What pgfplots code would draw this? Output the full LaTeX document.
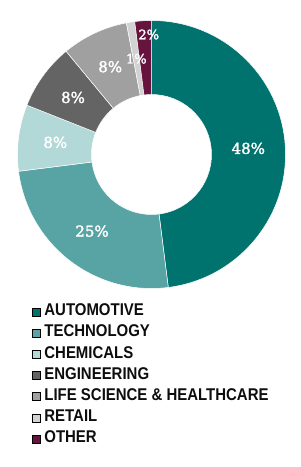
\documentclass[border=0pt]{standalone}
\usepackage{pgfplots}
\pgfplotsset{compat=1.18}
\usepackage{pgfplotstable}
\usepackage{fontspec}
\setmainfont{Liberation Sans}
\newfontfamily\legfont[FakeStretch=0.88]{Liberation Sans}
\newfontfamily\labfont[FakeBold=2]{DejaVu Serif}
\definecolor{c0}{RGB}{0,115,110}
\definecolor{c1}{RGB}{88,164,164}
\definecolor{c2}{RGB}{178,216,216}
\definecolor{c3}{RGB}{100,100,100}
\definecolor{c4}{RGB}{160,160,160}
\definecolor{c5}{RGB}{210,210,210}
\definecolor{c6}{RGB}{102,19,62}
% share (%), label radius (bp), label font size (bp), label angle offset (deg)
\pgfplotstableread[col sep=comma]{
share,lr,fs,ao
48,97,15,0
25,97,15,0
8,97,15,0
8,97,15,0
8,97,15,0
1,97,13,0
2,120,13,-2.3
}\shares
\begin{document}
\begin{tikzpicture}
\gdef\cum{0}
\pgfplotsforeachungrouped \i in {0,...,6}{%
  \pgfplotstablegetelem{\i}{share}\of\shares \let\sval\pgfplotsretval
  \pgfplotstablegetelem{\i}{lr}\of\shares \let\lrad\pgfplotsretval
  \pgfplotstablegetelem{\i}{fs}\of\shares \let\lfs\pgfplotsretval
  \pgfplotstablegetelem{\i}{ao}\of\shares \let\lao\pgfplotsretval
  \pgfmathsetmacro\angA{90-3.6*\cum}
  \pgfmathsetmacro\angB{90-3.6*(\cum+\sval)}
  \pgfmathsetmacro\angM{(\angA+\angB)/2+\lao}
  \expandafter\xdef\csname sa\i\endcsname{\angA}
  \expandafter\xdef\csname sb\i\endcsname{\angB}
  \expandafter\xdef\csname sm\i\endcsname{\angM}
  \expandafter\xdef\csname sv\i\endcsname{\sval}
  \expandafter\xdef\csname sr\i\endcsname{\lrad}
  \expandafter\xdef\csname sf\i\endcsname{\lfs}
  \pgfmathsetmacro\newcum{\cum+\sval}
  \xdef\cum{\newcum}
}
\begin{axis}[x=1bp,y=1bp,xmin=0,xmax=300,ymin=0,ymax=467,
  hide axis,clip=false,
  legend style={at={(0.1057,0.3505)},anchor=north west,draw=none,fill=none,
    inner sep=0pt,outer sep=0pt,
    font=\legfont\bfseries\fontsize{17bp}{17bp}\selectfont,text=black!95,
    nodes={inner sep=0pt,text height=12.4bp,text depth=0pt,anchor=west},
    row sep=8.6bp,column sep=4bp},
  legend cell align=left,
  legend image code/.code={\fill[#1] (0bp,-6.2bp) rectangle (8.3bp,1.8bp);}]
\path (rel axis cs:0,0) rectangle (rel axis cs:1,1);
\addlegendimage{fill=c0}\addlegendentry{AUTOMOTIVE}
\addlegendimage{fill=c1}\addlegendentry{TECHNOLOGY}
\addlegendimage{fill=c2}\addlegendentry{CHEMICALS}
\addlegendimage{fill=c3}\addlegendentry{ENGINEERING}
\addlegendimage{fill=c4}\addlegendentry{LIFE SCIENCE \& HEALTHCARE}
\addlegendimage{fill=c5}\addlegendentry{RETAIL}
\addlegendimage{fill=c6}\addlegendentry{OTHER}
\pgfplotsinvokeforeach{0,...,6}{
  \fill[c#1,draw=white,line width=0.5bp]
    ([shift={(axis cs:151.5,312.5)}]\csname sa#1\endcsname:134bp)
    arc[start angle=\csname sa#1\endcsname,end angle=\csname sb#1\endcsname,radius=134bp]
    -- ([shift={(axis cs:151.5,312.5)}]\csname sb#1\endcsname:60bp)
    arc[start angle=\csname sb#1\endcsname,end angle=\csname sa#1\endcsname,radius=60bp]
    -- cycle;
}
\pgfplotsinvokeforeach{0,...,6}{
  \node[text=white,inner sep=0pt,font=\labfont\fontsize{\csname sf#1\endcsname bp}{16bp}\selectfont]
    at ([shift={(axis cs:151.5,312.5)}]\csname sm#1\endcsname:\csname sr#1\endcsname bp)
    {\csname sv#1\endcsname\%};
}
\end{axis}
\end{tikzpicture}
\end{document}
